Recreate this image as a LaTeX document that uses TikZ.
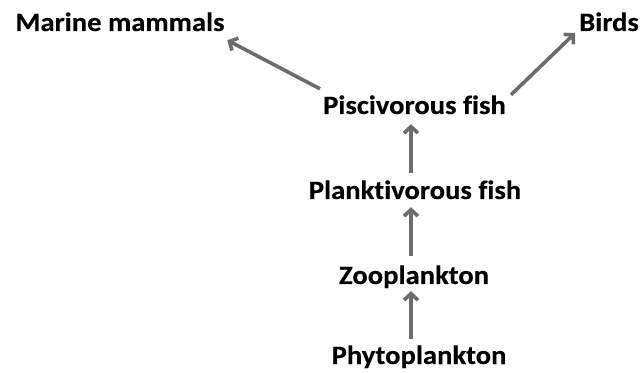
\documentclass[tikz,border=0pt]{standalone}
\usepackage{fontspec}
\setmainfont{Carlito}[FakeStretch=1.08,Ligatures={NoCommon},FakeBold=0.3]
\usetikzlibrary{arrows.meta}
\definecolor{arrgray}{RGB}{108,108,108}
\begin{document}
\begin{tikzpicture}[x=1pt,y=1pt,
  lbl/.style={anchor=base,inner sep=0pt,text height=18pt,text depth=0pt,
    font=\fontsize{26.5}{30}\selectfont\bfseries},
  arr/.style={draw=arrgray,line width=3.6pt,
    -{Straight Barb[length=6.5pt,width=14pt]}}]
\useasboundingbox (0,0) rectangle (642,372);
\node[lbl] (mam) at (120,341) {Marine mammals};
\node[lbl] (birds) at (609,341) {Birds};
\node[lbl] (pisc) at (414.5,258) {Piscivorous fish};
\node[lbl] (plank) at (415,173) {Planktivorous fish};
\node[lbl] (zoo) at (414,88) {Zooplankton};
\node[lbl] (phyto) at (419,8) {Phytoplankton};
\coordinate (ax) at (411,0);
\draw[arr] ([shift={(-3,7)}]pisc.north west) -- ([shift={(2.5,-9)}]mam.south east);
\draw[arr] ([shift={(5,1)}]pisc.north east) -- ([shift={(-4,-2)}]birds.south west);
\draw[arr] ([yshift=8]plank.north -| ax) -- ([yshift=-10]pisc.south -| ax);
\draw[arr] ([yshift=10]zoo.north -| ax) -- ([yshift=-8]plank.south -| ax);
\draw[arr] ([yshift=7]phyto.north -| ax) -- ([yshift=-7]zoo.south -| ax);
\end{tikzpicture}
\end{document}
